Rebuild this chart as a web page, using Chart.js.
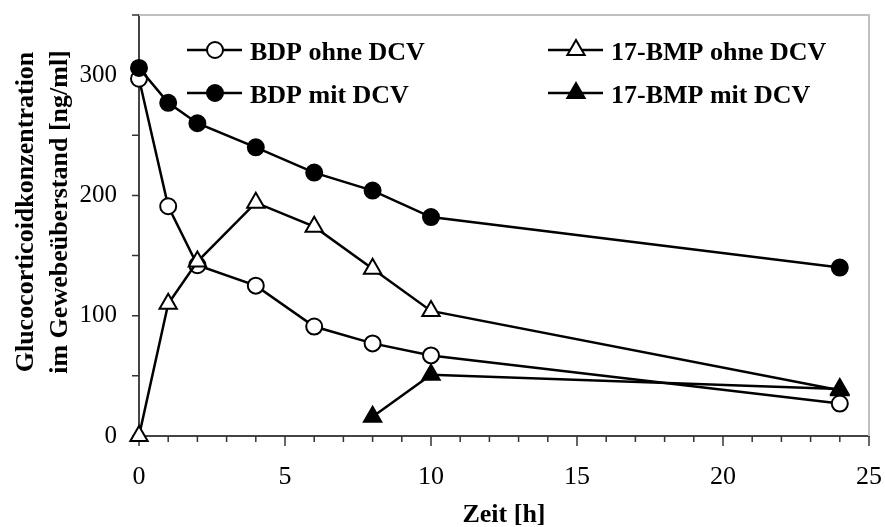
<!DOCTYPE html>
<html>
<head>
<meta charset="utf-8">
<script src="https://cdn.jsdelivr.net/npm/chart.js@4.4.0/dist/chart.umd.min.js"></script>
<style>
  html, body { margin: 0; padding: 0; background: #fff; }
  #wrap { width: 885px; height: 527px; position: relative; }
</style>
</head>
<body>
<div id="wrap"><canvas id="chart"></canvas></div>
<script>
// Zeitpunkte [h] und Konzentrationen [ng/ml]
const bdpTimes = [0, 1, 2, 4, 6, 8, 10, 24];
const bdpOhneDcv = [297, 191, 142, 125, 91, 77, 67, 27];
const bdpMitDcv = [306, 277, 260, 240, 219, 204, 182, 140];
const bmpOhneDcv = [0, 110, 145, 194, 174, 139, 104, 38];
const bmpMitTimes = [8, 10, 24];
const bmpMitDcv = [16, 51, 39];

const xTickLabels = [0, 5, 10, 15, 20, 25];
const yTickLabels = [0, 100, 200, 300];

const serif = "'Liberation Serif', 'Times New Roman', serif";

function pts(xs, ys) {
    return xs.map((x, i) => ({ x: x, y: ys[i] }));
}

function series(label, xs, ys, style, filled, radius, order) {
    return {
        label: label,
        data: pts(xs, ys),
        borderColor: '#000',
        borderWidth: 2.5,
        pointStyle: style,
        pointRadius: radius,
        pointHoverRadius: radius,
        pointBackgroundColor: filled ? '#000' : '#fff',
        pointBorderColor: '#000',
        pointBorderWidth: 2,
        tension: 0,
        clip: false,
        order: order
    };
}

// Rahmen oben/rechts und Teilstriche
const frameTicks = {
    id: 'frameTicks',
    beforeDatasetsDraw(chart) {
        const { ctx, chartArea: a, scales: { x, y } } = chart;
        ctx.save();
        ctx.strokeStyle = '#c0c0c0';
        ctx.lineWidth = 2;
        ctx.beginPath();
        ctx.moveTo(a.left, a.top);
        ctx.lineTo(a.right, a.top);
        ctx.lineTo(a.right, a.bottom);
        ctx.stroke();

        ctx.strokeStyle = '#333';
        ctx.lineWidth = 1.5;
        ctx.beginPath();
        x.ticks.forEach(t => {
            const px = x.getPixelForValue(t.value);
            const len = t.value % 5 === 0 ? 10 : 6;
            ctx.moveTo(px, a.bottom);
            ctx.lineTo(px, a.bottom + len);
        });
        y.ticks.forEach(t => {
            const py = y.getPixelForValue(t.value);
            ctx.moveTo(a.left - 7, py);
            ctx.lineTo(a.left, py);
        });
        ctx.stroke();
        ctx.restore();
    }
};

function marker(ctx, ds, cx, cy) {
    ctx.fillStyle = ds.pointBackgroundColor;
    ctx.strokeStyle = ds.pointBorderColor;
    ctx.lineWidth = ds.pointBorderWidth;
    if (Chart.helpers && Chart.helpers.drawPoint) {
        Chart.helpers.drawPoint(ctx, {
            pointStyle: ds.pointStyle, radius: ds.pointRadius,
            rotation: 0, borderWidth: ds.pointBorderWidth
        }, cx, cy);
    } else {
        ctx.beginPath();
        ctx.arc(cx, cy, ds.pointRadius, 0, Math.PI * 2);
        ctx.fill();
        ctx.stroke();
    }
}

// Legende und Achsentitel
const legendTitles = {
    id: 'legendTitles',
    afterDraw(chart) {
        const { ctx, chartArea: a } = chart;
        const colX = [187, 548];
        const rowY = [50, 93];
        ctx.save();
        chart.data.datasets.forEach((ds, i) => {
            const col = Math.floor(i / 2), row = i % 2;
            const lx = colX[col], ly = rowY[row];
            ctx.strokeStyle = '#000';
            ctx.lineWidth = 2.5;
            ctx.beginPath();
            ctx.moveTo(lx, ly);
            ctx.lineTo(lx + 55, ly);
            ctx.stroke();
            marker(ctx, ds, lx + 28, ly);
            ctx.fillStyle = '#000';
            ctx.font = 'bold 26px ' + serif;
            ctx.textAlign = 'left';
            ctx.textBaseline = 'alphabetic';
            ctx.fillText(ds.label, lx + 63, ly + 10);
        });

        ctx.font = 'bold 26px ' + serif;
        ctx.textAlign = 'center';
        ctx.textBaseline = 'alphabetic';
        ctx.fillText('Zeit [h]', (a.left + a.right) / 2, 522);

        ctx.translate(0, 212);
        ctx.rotate(-Math.PI / 2);
        ctx.fillText('Glucocorticoidkonzentration', 0, 33);
        ctx.fillText('im Gewebeüberstand [ng/ml]', 0, 67);
        ctx.restore();
    }
};

new Chart(document.getElementById('chart'), {
    type: 'line',
    data: {
        datasets: [
            series('BDP ohne DCV', bdpTimes, bdpOhneDcv, 'circle', false, 8, 4),
            series('BDP mit DCV', bdpTimes, bdpMitDcv, 'circle', true, 8, 3),
            series('17-BMP ohne DCV', bdpTimes, bmpOhneDcv, 'triangle', false, 10, 2),
            series('17-BMP mit DCV', bmpMitTimes, bmpMitDcv, 'triangle', true, 10, 1)
        ]
    },
    options: {
        responsive: true,
        maintainAspectRatio: false,
        animation: false,
        layout: { padding: { top: 15, right: 16, left: 0, bottom: 0 } },
        plugins: { legend: { display: false }, tooltip: { enabled: false } },
        scales: {
            x: {
                type: 'linear',
                min: 0,
                max: 25,
                grid: { display: false, drawTicks: false },
                border: { display: true, color: '#444', width: 2 },
                ticks: {
                    stepSize: 1,
                    autoSkip: false,
                    maxRotation: 0,
                    padding: 26,
                    color: '#000',
                    font: { family: serif, size: 26 },
                    callback: v => xTickLabels.includes(v) ? String(v) : ''
                },
                afterFit: s => {
                    s.height = 91;
                    s.paddingLeft = 0;
                    s.paddingRight = 0;
                }
            },
            y: {
                min: 0,
                max: 350,
                grid: { display: false, drawTicks: false },
                border: { display: true, color: '#444', width: 2 },
                ticks: {
                    stepSize: 50,
                    autoSkip: false,
                    padding: 22,
                    color: '#000',
                    font: { family: serif, size: 25 },
                    callback: v => yTickLabels.includes(v) ? String(v) : ''
                },
                afterFit: s => {
                    s.width = 139;
                    s.paddingTop = 0;
                    s.paddingBottom = 0;
                }
            }
        }
    },
    plugins: [frameTicks, legendTitles]
});
</script>
</body>
</html>
